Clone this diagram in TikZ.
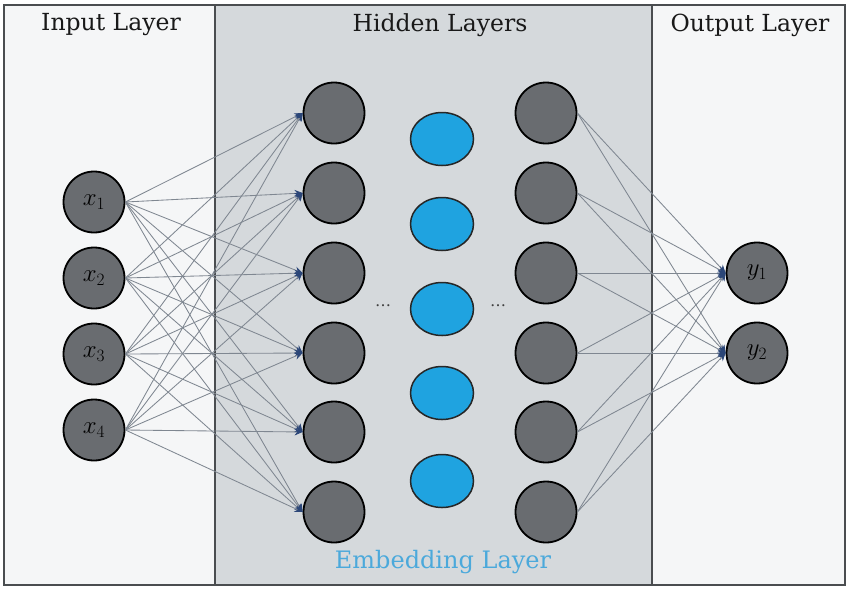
\documentclass[tikz,border=0pt]{standalone}
\usepackage{fontspec}
\setmainfont{DejaVu Serif}
\usetikzlibrary{arrows.meta,shapes.geometric}
\definecolor{panelgray}{HTML}{D5D9DC}
\definecolor{sidefill}{HTML}{F5F6F7}
\definecolor{framecol}{HTML}{4A4D50}
\definecolor{neuron}{HTML}{696C70}
\definecolor{embblue}{HTML}{1FA3E0}
\definecolor{embtext}{HTML}{4BA9DB}
\definecolor{linkgray}{HTML}{7F8791}
\definecolor{tipblue}{HTML}{2B4678}
\tikzset{
  neuronnode/.style={circle,draw=black,line width=1.8pt,fill=neuron,minimum size=61pt,inner sep=0pt,font=\fontsize{25}{30}\selectfont},
  embnode/.style={ellipse,draw=black!85,line width=1.5pt,fill=embblue,minimum width=63pt,minimum height=53pt,inner sep=0pt},
  titletext/.style={font=\fontsize{23.5}{28}\selectfont,text=black!90},
  link/.style={draw=linkgray,line width=0.85pt},
  arrowlink/.style={link,-{Stealth[length=8pt,width=7pt,color=tipblue]}},
  dotstext/.style={font=\fontsize{16}{18}\selectfont,text=black!75}
}
\begin{document}
\begin{tikzpicture}[x=1pt,y=-1pt]
\useasboundingbox (0,0) rectangle (850,590);
\fill[white] (0,0) rectangle (850,590);
\fill[sidefill] (4,5) rectangle (215,585);
\fill[panelgray] (215,5) rectangle (652,585);
\fill[sidefill] (652,5) rectangle (845,585);
\draw[framecol,line width=1.5pt] (4,5) rectangle (845,585);
\draw[framecol,line width=1.3pt] (215,5) -- (215,585);
\draw[framecol,line width=1.3pt] (652,5) -- (652,585);

\node[titletext] (tin) at (111,25) {Input Layer};
\node[titletext] (thid) at (440,25) {Hidden Layers};
\node[titletext] (tout) at (750,25) {Output Layer};
\node[font=\fontsize{24}{28}\selectfont,text=embtext] (temb) at (443,562) {Embedding Layer};

% input nodes
\foreach \i/\y in {1/202,2/278,3/354,4/430}
  \node[neuronnode] (x\i) at (94,\y) {$x_{\i}$};
% hidden col 1 and col 3
\foreach \i/\y in {1/113,2/193,3/273,4/353,5/432,6/512}{
  \node[neuronnode] (h\i) at (334,\y) {};
  \node[neuronnode] (g\i) at (546,\y) {};
}
% embedding
\foreach \i/\y in {1/139,2/224,3/309,4/393,5/481}
  \node[embnode] (e\i) at (442,\y) {};
% output
\node[neuronnode] (y1) at (757,273) {$y_1$};
\node[neuronnode] (y2) at (757,353) {$y_2$};

\node[dotstext] (d1) at (383,306) {\dots};
\node[dotstext] (d2) at (498,306) {\dots};

\foreach \i in {1,...,4}
  \foreach \j in {1,...,6}
    \draw[arrowlink] (x\i.east) -- (h\j.west);
\foreach \i in {1,...,6}
  \foreach \j in {1,2}
    \draw[arrowlink] (g\i.east) -- (y\j.west);
\end{tikzpicture}
\end{document}
